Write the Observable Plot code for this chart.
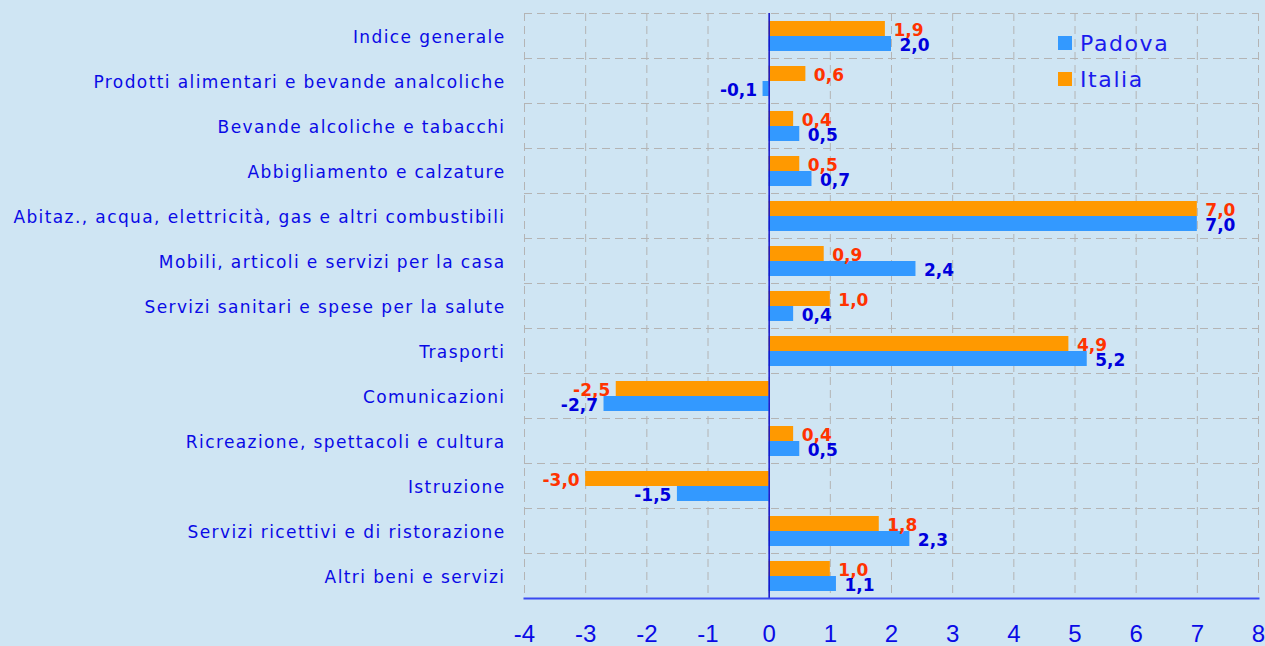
<!DOCTYPE html>
<html><head><meta charset="utf-8">
<script src="https://cdn.jsdelivr.net/npm/d3@7"></script>
<script src="https://cdn.jsdelivr.net/npm/@observablehq/plot@0.6"></script>
<style>
html,body{margin:0;padding:0;background:#cfe5f3;overflow:hidden;}
#wrap{position:relative;width:1265px;height:646px;}
.legend{position:absolute;left:1058px;font-family:"DejaVu Sans",Verdana,sans-serif;font-size:22px;color:#1a1aee;letter-spacing:1.6px;display:flex;align-items:center;height:24px;}
.sw{width:14px;height:14px;margin-right:8px;}
</style></head><body><div id="wrap"></div>
<script>
const categories = [
  "Indice generale",
  "Prodotti alimentari e bevande analcoliche",
  "Bevande alcoliche e tabacchi",
  "Abbigliamento e calzature",
  "Abitaz., acqua, elettricità, gas e altri combustibili",
  "Mobili, articoli e servizi per la casa",
  "Servizi sanitari e spese per la salute",
  "Trasporti",
  "Comunicazioni",
  "Ricreazione, spettacoli e cultura",
  "Istruzione",
  "Servizi ricettivi e di ristorazione",
  "Altri beni e servizi"
];
const padova = [2.0, -0.1, 0.5, 0.7, 7.0, 2.4, 0.4, 5.2, -2.7, 0.5, -1.5, 2.3, 1.1];
const italia = [1.9, 0.6, 0.4, 0.5, 7.0, 0.9, 1.0, 4.9, -2.5, 0.4, -3.0, 1.8, 1.0];
const xTicks = [-4, -3, -2, -1, 0, 1, 2, 3, 4, 5, 6, 7, 8];
const seriesNames = ["Padova", "Italia"];
const seriesColors = ["#3399ff", "#ff9900"];

const rows = categories.map((c, i) => ({category: c, padova: padova[i], italia: italia[i]}));
const fmt = v => v.toFixed(1).replace(".", ",");
const labelBlue = "#0a0ae6";

const chart = Plot.plot({
  width: 1265, height: 646,
  marginTop: 13, marginBottom: 48, marginLeft: 524, marginRight: 7,
  style: {background: "transparent", fontFamily: "DejaVu Sans, Verdana, sans-serif", color: labelBlue, overflow: "visible"},
  x: {domain: [-4, 8], label: null},
  y: {domain: categories, padding: 0, label: null},
  marks: [
    Plot.gridX(xTicks, {stroke: "#b4b4b4", strokeOpacity: 1, strokeDasharray: "8,5"}),
    Plot.gridY(categories, {stroke: "#b4b4b4", strokeOpacity: 1, strokeDasharray: "8,5", dy: -22.5}),
    Plot.barX(rows, {x: "italia", y: "category", fill: seriesColors[1], insetTop: 8, insetBottom: 22}),
    Plot.barX(rows, {x: "padova", y: "category", fill: seriesColors[0], insetTop: 23, insetBottom: 7}),
    Plot.ruleX([0], {stroke: "#1010cc", strokeWidth: 1.5}),
    Plot.frame({anchor: "bottom", stroke: "#3a4af0", strokeWidth: 2}),
    Plot.axisX(xTicks, {tickSize: 0, tickPadding: 26, fontSize: 24, fontFamily: "Liberation Sans Narrow, Liberation Sans, sans-serif", color: labelBlue, tickFormat: d => String(d), label: null}),
    Plot.axisY({tickSize: 0, tickPadding: 19, fontSize: 17, color: labelBlue, dy: 2, label: null}),
    Plot.text(rows.filter(d => d.italia >= 0), {x: "italia", y: "category", text: d => fmt(d.italia), textAnchor: "start", dx: 8, dy: -5, fill: "#ff3300", fontWeight: "bold", fontSize: 17}),
    Plot.text(rows.filter(d => d.italia < 0), {x: "italia", y: "category", text: d => fmt(d.italia), textAnchor: "end", dx: -6, dy: -5, fill: "#ff3300", fontWeight: "bold", fontSize: 17}),
    Plot.text(rows.filter(d => d.padova >= 0), {x: "padova", y: "category", text: d => fmt(d.padova), textAnchor: "start", dx: 8, dy: 10, fill: "#0000dd", fontWeight: "bold", fontSize: 17}),
    Plot.text(rows.filter(d => d.padova < 0), {x: "padova", y: "category", text: d => fmt(d.padova), textAnchor: "end", dx: -6, dy: 10, fill: "#0000dd", fontWeight: "bold", fontSize: 17})
  ]
});
const yLab = chart.querySelector('g[aria-label="y-axis tick label"]');
if (yLab) yLab.style.letterSpacing = "1.4px";
const wrap = document.getElementById("wrap");
wrap.appendChild(chart);
seriesNames.forEach((name, i) => {
  const item = document.createElement("div");
  item.className = "legend";
  item.style.top = (31 + i * 36) + "px";
  const sw = document.createElement("div");
  sw.className = "sw";
  sw.style.background = seriesColors[i];
  const t = document.createElement("span");
  t.textContent = name;
  item.appendChild(sw);
  item.appendChild(t);
  wrap.appendChild(item);
});
</script>
</body></html>
